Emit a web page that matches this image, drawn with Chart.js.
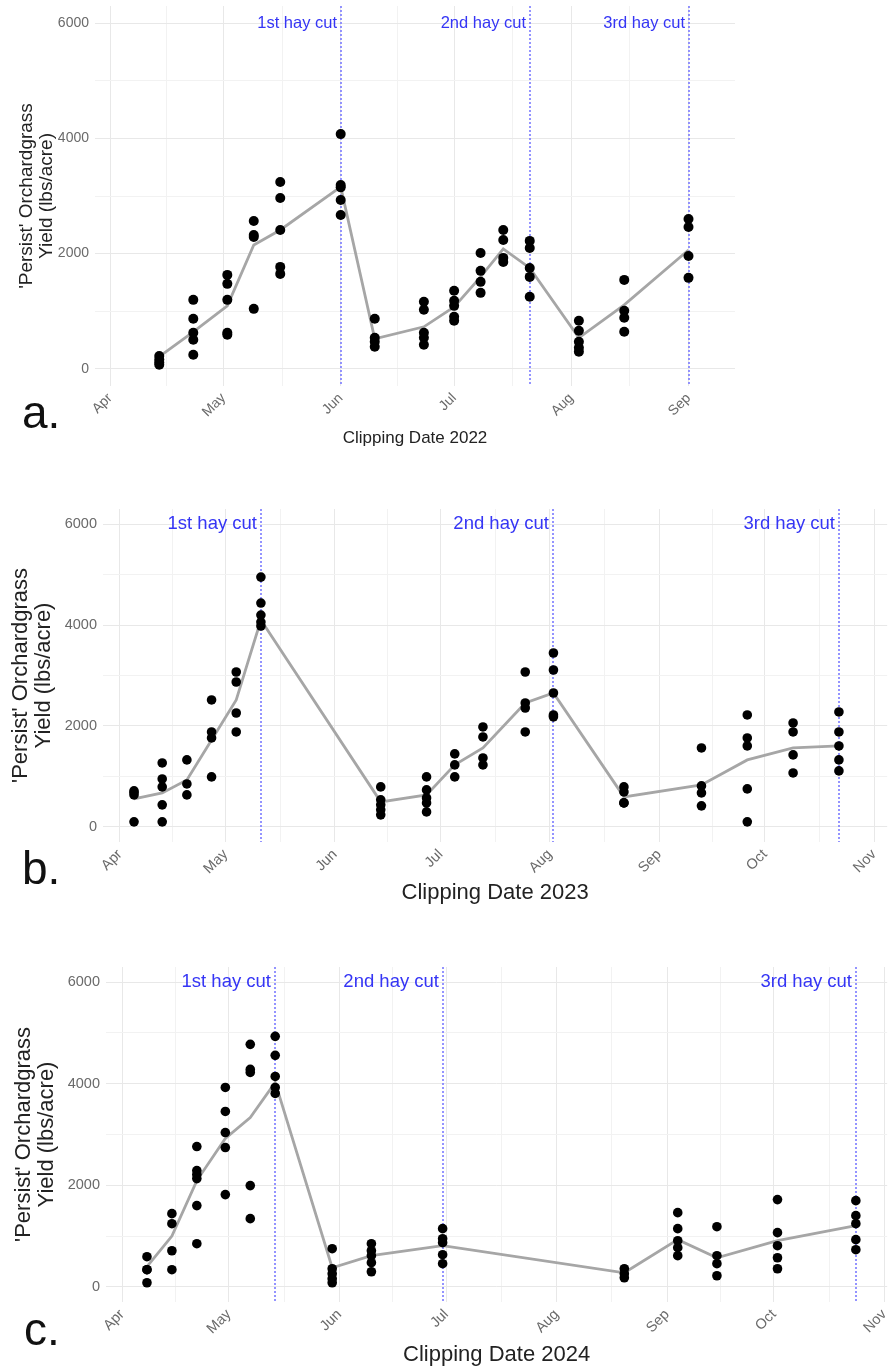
<!DOCTYPE html>
<html>
<head>
<meta charset="utf-8">
<script src="https://cdn.jsdelivr.net/npm/chart.js@4.4.1/dist/chart.umd.min.js"></script>
<style>
  body { margin: 0; background: #fff; }
  #page { position: relative; width: 892px; height: 1367px; overflow: hidden; font-family: 'Liberation Sans', Arial, sans-serif; }
  .panel { position: absolute; left: 0; }
  .tag { position: absolute; font-size: 46px; line-height: 1; color: #111; }
</style>
</head>
<body>
<div id="page">
  <canvas id="chart2022" class="panel" style="top:0px" width="892" height="460"></canvas>
  <canvas id="chart2023" class="panel" style="top:460px" width="892" height="460"></canvas>
  <canvas id="chart2024" class="panel" style="top:920px" width="892" height="447"></canvas>
  <div class="tag" style="left:22px;top:389px">a.</div>
  <div class="tag" style="left:22px;top:845px">b.</div>
  <div class="tag" style="left:24px;top:1306px">c.</div>
</div>
<script>
const monthNames = ['Apr', 'May', 'Jun', 'Jul', 'Aug', 'Sep', 'Oct', 'Nov'];
const cutNames = ['1st hay cut', '2nd hay cut', '3rd hay cut'];
const yTickValues = [0, 1000, 2000, 3000, 4000, 5000, 6000];

// 2022
const dates2022 = ['2022-04-14', '2022-04-23', '2022-05-02', '2022-05-09', '2022-05-16', '2022-06-01',
  '2022-06-10', '2022-06-23', '2022-07-01', '2022-07-08', '2022-07-14', '2022-07-21',
  '2022-08-03', '2022-08-15', '2022-09-01'];
const yields2022 = [
  [220, 160, 110, 70],
  [1196, 867, 624, 503, 243],
  [1630, 1474, 1196, 624, 590],
  [2566, 2323, 2289, 1040],
  [3243, 2965, 2410, 1769, 1647],
  [4075, 3190, 3150, 2930, 2670],
  [867, 538, 468, 382],
  [1162, 1023, 624, 538, 416],
  [1353, 1179, 1092, 902, 832],
  [2011, 1700, 1509, 1318],
  [2410, 2237, 1925, 1855],
  [2220, 2098, 1751, 1595, 1249],
  [832, 659, 468, 364, 295],
  [1543, 1006, 884, 642],
  [2601, 2462, 1959, 1578]
];
const trend2022 = [210, 640, 1092, 2150, 2410, 3157, 520, 728, 1075, 1595, 2080, 1750, 537, 1110, 2063];
const cuts2022 = ['2022-06-01', '2022-07-21', '2022-09-01'];

// 2023
const dates2023 = ['2023-04-05', '2023-04-13', '2023-04-20', '2023-04-27', '2023-05-04', '2023-05-11',
  '2023-06-14', '2023-06-27', '2023-07-05', '2023-07-13', '2023-07-25', '2023-08-02',
  '2023-08-22', '2023-09-13', '2023-09-26', '2023-10-09', '2023-10-22'];
const yields2023 = [
  [713, 680, 634, 99],
  [1267, 950, 792, 436, 99],
  [1327, 851, 634],
  [2515, 1881, 1762, 990],
  [3069, 2871, 2257, 1881],
  [4950, 4436, 4198, 4059, 3980],
  [792, 535, 436, 337, 238],
  [990, 733, 574, 475, 297],
  [1446, 1228, 990],
  [1980, 1782, 1366, 1228],
  [3069, 2455, 2356, 1881],
  [3446, 3109, 2653, 2218, 2180],
  [792, 693, 475, 475],
  [1564, 812, 673, 416],
  [2218, 1762, 1604, 752, 99],
  [2059, 1881, 1426, 1069],
  [2277, 1881, 1604, 1327, 1109]
];
const trend2023 = [554, 673, 930, 1723, 2515, 4100, 495, 634, 1228, 1564, 2455, 2653, 594, 832, 1327, 1564, 1604];
const cuts2023 = ['2023-05-11', '2023-08-02', '2023-10-22'];

// 2024
const dates2024 = ['2024-04-08', '2024-04-15', '2024-04-22', '2024-04-30', '2024-05-07', '2024-05-14',
  '2024-05-30', '2024-06-10', '2024-06-30', '2024-08-20', '2024-09-04', '2024-09-15',
  '2024-10-02', '2024-10-24'];
const yields2024 = [
  [592, 336, 336, 79],
  [1441, 1243, 710, 336],
  [2763, 2289, 2210, 2131, 1599, 849],
  [3927, 3454, 3039, 2743, 1816],
  [4776, 4283, 4223, 1993, 1342],
  [4934, 4559, 4144, 3927, 3809],
  [750, 355, 257, 158, 79],
  [849, 710, 612, 474, 296],
  [1145, 947, 868, 632, 454],
  [355, 257, 178],
  [1460, 1145, 908, 770, 612],
  [1184, 612, 454, 217],
  [1717, 1066, 809, 572, 355],
  [1697, 1401, 1243, 928, 730]
];
const trend2024 = [395, 1000, 2092, 2921, 3335, 4026, 375, 612, 809, 276, 928, 572, 908, 1204];
const cuts2024 = ['2024-05-14', '2024-06-30', '2024-10-24'];

// days counted from 1 April of the same year
function dayOf(iso) {
  const [y, m, d] = iso.split('-').map(Number);
  return (Date.UTC(y, m - 1, d) - Date.UTC(y, 3, 1)) / 864e5;
}

function monthTicks(year) {
  const ticks = [];
  const labels = {};
  for (let m = 3; m <= 10; m++) {
    const start = (Date.UTC(year, m, 1) - Date.UTC(year, 3, 1)) / 864e5;
    const next = (Date.UTC(year, m + 1, 1) - Date.UTC(year, 3, 1)) / 864e5;
    ticks.push(start, (start + next) / 2);
    labels[start] = monthNames[m - 3];
  }
  return { ticks, labels };
}

const hayCuts = {
  id: 'hayCuts',
  beforeDatasetsDraw(chart, args, opts) {
    const { ctx, chartArea, scales: { x, y } } = chart;
    ctx.save();
    opts.days.forEach((d, i) => {
      const px = Math.round(x.getPixelForValue(d));
      ctx.strokeStyle = '#7a7aff';
      ctx.lineWidth = 1.6;
      ctx.setLineDash([2, 2]);
      ctx.beginPath();
      ctx.moveTo(px, chartArea.top);
      ctx.lineTo(px, chartArea.bottom);
      ctx.stroke();
      ctx.setLineDash([]);
      ctx.fillStyle = '#3535f5';
      ctx.font = opts.fontSize + "px 'Liberation Sans', Arial, sans-serif";
      ctx.textAlign = 'right';
      ctx.textBaseline = 'middle';
      ctx.fillText(cutNames[i], px - 4, y.getPixelForValue(6000));
    });
    ctx.restore();
  }
};

function drawPanel(id, year, dates, yields, trend, cuts, box) {
  const points = [];
  dates.forEach((d, i) => yields[i].forEach(v => points.push({ x: dayOf(d), y: v })));
  const line = dates.map((d, i) => ({ x: dayOf(d), y: trend[i] }));
  const mt = monthTicks(year);
  const family = "'Liberation Sans', Arial, sans-serif";

  new Chart(document.getElementById(id), {
    type: 'scatter',
    data: {
      datasets: [
        { data: points, backgroundColor: '#000', borderWidth: 0, pointRadius: box.dot, order: 0 },
        { data: line, showLine: true, borderColor: '#a6a6a6', borderWidth: 2.8, pointRadius: 0, order: 1 }
      ]
    },
    options: {
      responsive: false,
      animation: false,
      events: [],
      layout: { padding: { top: box.padTop, right: box.padRight, left: 0, bottom: 0 } },
      plugins: {
        legend: { display: false },
        tooltip: { enabled: false },
        hayCuts: { days: cuts.map(dayOf), fontSize: box.cutFont }
      },
      scales: {
        x: {
          type: 'linear',
          min: box.xMin,
          max: box.xMax,
          afterBuildTicks: s => { s.ticks = mt.ticks.filter(v => v >= box.xMin && v <= box.xMax).map(v => ({ value: v })); },
          afterFit: s => { s.height = box.axisHeight; s.paddingLeft = 0; s.paddingRight = 0; },
          border: { display: false },
          grid: {
            drawTicks: false,
            color: c => (c.tick && mt.labels[c.tick.value] === undefined) ? '#f2f2f2' : '#e8e8e8'
          },
          ticks: {
            autoSkip: false,
            minRotation: 45,
            maxRotation: 45,
            padding: 4,
            color: '#6a6a6a',
            font: { family, size: box.tickFont },
            callback: v => mt.labels[v] || ''
          },
          title: {
            display: true,
            text: 'Clipping Date ' + year,
            color: '#222',
            font: { family, size: box.xTitleFont, lineHeight: 1.1 },
            padding: { top: 0, bottom: box.titlePad }
          }
        },
        y: {
          min: -300,
          max: 6300,
          afterBuildTicks: s => { s.ticks = yTickValues.map(v => ({ value: v })); },
          afterFit: s => { s.width = box.axisLeft; s.paddingTop = 0; s.paddingBottom = 0; },
          border: { display: false },
          grid: {
            drawTicks: false,
            color: c => (c.tick && c.tick.value % 2000) ? '#f2f2f2' : '#e8e8e8'
          },
          ticks: {
            padding: 6,
            color: '#6a6a6a',
            font: { family, size: box.tickFont },
            callback: v => (v % 2000 === 0 ? String(v) : '')
          },
          title: {
            display: true,
            text: ["'Persist' Orchardgrass", 'Yield (lbs/acre)'],
            color: '#222',
            font: { family, size: box.titleFont, lineHeight: 1.05 },
            padding: { top: box.yTitlePad, bottom: 0 }
          }
        }
      }
    },
    plugins: [hayCuts]
  });
}

drawPanel('chart2022', 2022, dates2022, yields2022, trend2022, cuts2022,
  { padTop: 6, padRight: 157, axisLeft: 95, axisHeight: 74, xMin: -4, xMax: 165.3, titlePad: 12, yTitlePad: 17,
    dot: 5, tickFont: 14, titleFont: 19, xTitleFont: 17, cutFont: 16.5 });
drawPanel('chart2023', 2023, dates2023, yields2023, trend2023, cuts2023,
  { padTop: 49, padRight: 2, axisLeft: 103, axisHeight: 78, xMin: -4.8, xMax: 217.7, titlePad: 15, yTitlePad: 9,
    dot: 4.8, tickFont: 14.5, titleFont: 22, xTitleFont: 22, cutFont: 18.5 });
drawPanel('chart2024', 2024, dates2024, yields2024, trend2024, cuts2024,
  { padTop: 47, padRight: 0, axisLeft: 106, axisHeight: 65, xMin: -4.5, xMax: 214.8, titlePad: 0, yTitlePad: 12,
    dot: 4.8, tickFont: 14.5, titleFont: 22, xTitleFont: 22, cutFont: 18.5 });
</script>
</body>
</html>
